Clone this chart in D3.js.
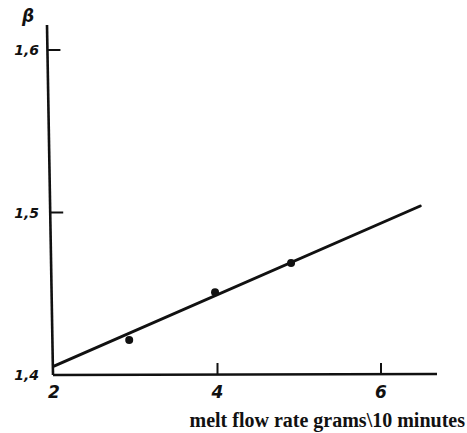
<!DOCTYPE html>
<html>
<head>
<meta charset="utf-8">
<script src="https://cdn.jsdelivr.net/npm/d3@7"></script>
<style>
  body { margin: 0; background: #fff; }
  .hand { font-family: "DejaVu Sans", sans-serif; font-style: italic; font-weight: bold; }
</style>
</head>
<body>
<div id="chart"></div>
<script>
const width = 467
const height = 433

// data
const pointsX = [2.92, 3.97, 4.9]
const pointsY = [1.4215, 1.451, 1.469]
const fitX = [2.0, 6.48]
const fitY = [1.4055, 1.504]
const xTicks = [2, 4, 6]
const yTicks = [1.4, 1.5, 1.6]
const yTickLabels = ["1,4", "1,5", "1,6"]

const svg = d3.select("div#chart").append("svg").attr("width", width).attr("height", height)

const x = d3.scaleLinear().domain([2, 6]).range([54, 381])
const y = d3.scaleLinear().domain([1.4, 1.6]).range([375, 50])

// axes (hand-drawn look, drawn as plain lines)
const axisGroup = svg.append("g").attr("id", "axisGroup")
axisGroup.append("line")
    .attr("x1", 47).attr("y1", 25).attr("x2", 53).attr("y2", 375)
    .attr("stroke", "#111").attr("stroke-width", 2.6)
axisGroup.append("line")
    .attr("x1", 53).attr("y1", 375).attr("x2", 437).attr("y2", 374)
    .attr("stroke", "#111").attr("stroke-width", 2.6)

// y ticks pointing inward
const yAxisX = v => 47 + (25 - y(v)) / (25 - 375) * 6
axisGroup.selectAll(".ytick")
    .data(yTicks.slice(1))
    .enter().append("line")
    .attr("class", "ytick")
    .attr("x1", d => yAxisX(d)).attr("x2", d => yAxisX(d) + 13)
    .attr("y1", d => y(d)).attr("y2", d => y(d))
    .attr("stroke", "#111").attr("stroke-width", 2)

// x ticks pointing up
axisGroup.selectAll(".xtick")
    .data(xTicks.slice(1))
    .enter().append("line")
    .attr("class", "xtick")
    .attr("x1", d => x(d)).attr("x2", d => x(d))
    .attr("y1", 363).attr("y2", 375)
    .attr("stroke", "#111").attr("stroke-width", 2)

// tick labels
axisGroup.selectAll(".ylabel")
    .data(yTicks)
    .enter().append("text")
    .attr("class", "ylabel hand")
    .attr("x", 39)
    .attr("y", d => y(d) + 5)
    .attr("text-anchor", "end")
    .attr("font-size", 14)
    .attr("fill", "#111")
    .text((d, i) => yTickLabels[i])

axisGroup.selectAll(".xlabel")
    .data(xTicks)
    .enter().append("text")
    .attr("class", "xlabel hand")
    .attr("x", d => x(d))
    .attr("y", 398)
    .attr("text-anchor", "middle")
    .attr("font-size", 17)
    .attr("fill", "#111")
    .text(d => d)

svg.append("text")
    .attr("class", "hand")
    .attr("x", 28).attr("y", 22)
    .attr("text-anchor", "middle")
    .attr("font-size", 17)
    .attr("fill", "#111")
    .text("β")

// fitted line
svg.append("line")
    .attr("x1", x(fitX[0])).attr("y1", y(fitY[0]))
    .attr("x2", x(fitX[1])).attr("y2", y(fitY[1]))
    .attr("stroke", "#111").attr("stroke-width", 3)
    .attr("stroke-linecap", "round")

// measured points
svg.selectAll(".pt")
    .data(pointsX)
    .enter().append("circle")
    .attr("class", "pt")
    .attr("cx", d => x(d))
    .attr("cy", (d, i) => y(pointsY[i]))
    .attr("r", 4)
    .attr("fill", "#111")

// x axis title
svg.append("text")
    .attr("x", 465).attr("y", 427)
    .attr("text-anchor", "end")
    .attr("font-family", "Liberation Serif, serif")
    .attr("font-weight", "bold")
    .attr("font-size", 20)
    .attr("fill", "#111")
    .text("melt flow rate grams\\10 minutes")
</script>
</body>
</html>
